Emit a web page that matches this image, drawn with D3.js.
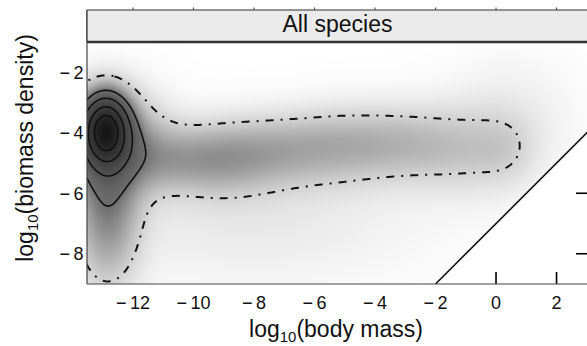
<!DOCTYPE html>
<html>
<head>
<meta charset="utf-8">
<script src="https://cdn.jsdelivr.net/npm/d3@7"></script>
<style>
  html, body { margin: 0; padding: 0; background: #fff; }
  svg { display: block; font-family: "Liberation Sans", Arial, Helvetica, sans-serif; }
</style>
</head>
<body>
<svg id="chart" width="587" height="346"></svg>
<script>
// ---- data -------------------------------------------------------------
const stripLabel = "All species";
const xTicks = [-12, -10, -8, -6, -4, -2, 0, 2];
const yTicks = [-2, -4, -6, -8];

// Smoothed density surface, described by its Gaussian kernels
// (centre in log10 body mass / log10 biomass density, spreads, weight):
// core peak, its base, the lower column, then the band of larger species,
// then two faint halos.
const kernelX  = [-12.9, -12.85, -12.85, -12.85, -11.0, -9.0, -7.0, -5.0, -3.0, -1.0, 0.4, -8.0, 0.5];
const kernelY  = [-3.9,  -4.1,   -6.2,   -8.5,   -4.9,  -4.8,  -4.55, -4.4, -4.35, -4.55, -4.6, -6.8, -3.6];
const kernelSX = [0.5,   1.2,    0.75,   0.75,   1.2,   1.2,   1.2,  1.2,  1.2,  1.2,   0.7,  4.0,  1.5];
const kernelSY = [0.75,  1.1,    1.5,    1.0,    0.75,  0.85,  0.85, 0.9,  0.9,  1.0,   0.85, 1.6,  1.5];
const kernelW  = [0.72,  0.2,    0.2,    0.04,   0.1,   0.13,  0.1,  0.1,  0.09, 0.07,  0.035, 0.042, 0.035];

// contour levels of the surface
const solidLevels = [0.25, 0.4, 0.6, 0.8];
const outerLevels = [0.084];

// grey ramp of the surface
const shadeStops = [0, 0.084, 0.25, 0.4, 0.6, 0.8, 1.0];
const shadeGrey  = [255, 210, 110, 82, 60, 42, 22];

// upper limit line: biomass density = body mass - 7
const boundaryX = [-2, 3.2];
const boundaryOffset = -7;

// ---- layout -----------------------------------------------------------
const plot = { left: 87, right: 588, top: 42, bottom: 284 };
const stripTop = 10;

const x = d3.scaleLinear().domain([-13.52, 3.04]).range([plot.left, plot.right]);
const y = d3.scaleLinear().domain([-9, -1]).range([plot.bottom, plot.top]);
const grey = d3.scaleLinear().domain(shadeStops).range(shadeGrey).clamp(true);

function density(xv, yv) {
  let s = 0;
  for (let k = 0; k < kernelW.length; k++) {
    const dx = (xv - kernelX[k]) / kernelSX[k];
    const dy = (yv - kernelY[k]) / kernelSY[k];
    s += kernelW[k] * Math.exp(-0.5 * (dx * dx + dy * dy));
  }
  return s;
}
const allowed = (xv, yv) => yv >= xv + boundaryOffset;

const svg = d3.select("#chart");
const defs = svg.append("defs");
defs.append("clipPath").attr("id", "clip-plot")
  .append("rect")
  .attr("x", plot.left).attr("y", plot.top)
  .attr("width", plot.right - plot.left).attr("height", plot.bottom - plot.top);

// ---- density image ------------------------------------------------------
const cw = plot.right - plot.left, ch = plot.bottom - plot.top;
const canvas = document.createElement("canvas");
canvas.width = cw; canvas.height = ch;
const ctx = canvas.getContext("2d");
const img = ctx.createImageData(cw, ch);
for (let j = 0; j < ch; j++) {
  const yv = y.invert(plot.top + j + 0.5);
  for (let i = 0; i < cw; i++) {
    const xv = x.invert(plot.left + i + 0.5);
    const p = (j * cw + i) * 4;
    if (!allowed(xv, yv)) { img.data[p + 3] = 0; continue; }
    const g = Math.round(grey(density(xv, yv)));
    img.data[p] = g; img.data[p + 1] = g; img.data[p + 2] = g; img.data[p + 3] = 255;
  }
}
ctx.putImageData(img, 0, 0);
svg.append("image")
  .attr("x", plot.left).attr("y", plot.top)
  .attr("width", cw).attr("height", ch)
  .attr("preserveAspectRatio", "none")
  .attr("href", canvas.toDataURL());

// ---- inward ticks, shown only where the surface leaves the panel blank ----
const tickLen = 12;
const ticks = svg.append("g");
xTicks.forEach(v => {
  const inner = y.invert(plot.bottom - tickLen);
  if (allowed(v, inner)) return;
  ticks.append("line").attr("x1", x(v)).attr("x2", x(v))
    .attr("y1", plot.bottom).attr("y2", plot.bottom - tickLen)
    .attr("stroke", "#000").attr("stroke-width", 1.6);
});
yTicks.forEach(v => {
  const inner = x.invert(plot.right - tickLen);
  if (allowed(inner, v)) return;
  ticks.append("line").attr("x1", plot.right).attr("x2", plot.right - tickLen)
    .attr("y1", y(v)).attr("y2", y(v))
    .attr("stroke", "#000").attr("stroke-width", 1.6);
});

// ---- contours -----------------------------------------------------------
const step = 0.04, gx0 = -15.5, gx1 = 4.5, gy0 = -11.5, gy1 = 1.0;
const n = Math.round((gx1 - gx0) / step) + 1;
const m = Math.round((gy1 - gy0) / step) + 1;
const values = new Float64Array(n * m);
for (let j = 0; j < m; j++)
  for (let i = 0; i < n; i++)
    values[i + j * n] = density(gx0 + i * step, gy0 + j * step);

const proj = d3.geoTransform({
  point(px, py) {
    this.stream.point(x(gx0 + (px - 0.5) * step), y(gy0 + (py - 0.5) * step));
  }
});
const path = d3.geoPath(proj);
const contourGen = d3.contours().size([n, m]);

const cg = svg.append("g").attr("clip-path", "url(#clip-plot)").attr("fill", "none");
cg.selectAll("path.solid")
  .data(contourGen.thresholds(solidLevels)(values))
  .join("path").attr("class", "solid")
  .attr("d", path)
  .attr("stroke", "#111").attr("stroke-width", 1.6);
cg.selectAll("path.outer")
  .data(contourGen.thresholds(outerLevels)(values))
  .join("path").attr("class", "outer")
  .attr("d", path)
  .attr("stroke", "#111").attr("stroke-width", 2)
  .attr("stroke-dasharray", "8,7,2,7");

// boundary line
cg.append("path")
  .datum(boundaryX.map(v => [v, v + boundaryOffset]))
  .attr("d", d3.line().x(d => x(d[0])).y(d => y(d[1])))
  .attr("stroke", "#111").attr("stroke-width", 1.6);

// ---- frame and strip ----------------------------------------------------
svg.append("line").attr("x1", plot.left).attr("x2", plot.right)
  .attr("y1", plot.bottom).attr("y2", plot.bottom)
  .attr("stroke", "#444").attr("stroke-width", 1.2);
svg.append("line").attr("x1", plot.left).attr("x2", plot.left)
  .attr("y1", stripTop).attr("y2", plot.bottom)
  .attr("stroke", "#444").attr("stroke-width", 1.2);

svg.append("rect")
  .attr("x", plot.left).attr("y", stripTop)
  .attr("width", plot.right - plot.left).attr("height", plot.top - stripTop)
  .attr("fill", "#ebebeb");
svg.append("line").attr("x1", plot.left).attr("x2", plot.right)
  .attr("y1", stripTop).attr("y2", stripTop)
  .attr("stroke", "#333").attr("stroke-width", 1.2);
svg.append("line").attr("x1", plot.left).attr("x2", plot.right)
  .attr("y1", plot.top).attr("y2", plot.top)
  .attr("stroke", "#333").attr("stroke-width", 2.6);
svg.append("line").attr("x1", plot.left).attr("x2", plot.left)
  .attr("y1", stripTop).attr("y2", plot.top)
  .attr("stroke", "#333").attr("stroke-width", 1.2);
svg.append("text")
  .attr("x", (plot.left + plot.right) / 2).attr("y", stripTop + 21.5)
  .attr("text-anchor", "middle").attr("font-size", 23).attr("fill", "#111")
  .text(stripLabel);

// short ticks above the strip
xTicks.forEach(v => {
  svg.append("line").attr("x1", x(v)).attr("x2", x(v))
    .attr("y1", stripTop - 2.5).attr("y2", stripTop)
    .attr("stroke", "#555").attr("stroke-width", 1.2);
});

// ---- tick labels --------------------------------------------------------
function addNumber(sel, v) {
  if (v < 0) {
    sel.append("tspan").text("\u2212");
    sel.append("tspan").attr("dx", 3.5).text(String(-v));
  } else {
    sel.text(String(v));
  }
}
xTicks.forEach(v => {
  const t = svg.append("text")
    .attr("x", x(v)).attr("y", 309)
    .attr("text-anchor", "middle").attr("font-size", 18).attr("fill", "#111");
  addNumber(t, v);
});
yTicks.forEach(v => {
  const t = svg.append("text")
    .attr("x", 83.5).attr("y", y(v) + 6.5)
    .attr("text-anchor", "end").attr("font-size", 18).attr("fill", "#111");
  addNumber(t, v);
});

// ---- axis titles --------------------------------------------------------
function axisTitle(sel, main) {
  sel.append("tspan").text("log");
  sel.append("tspan").attr("font-size", 15).attr("dy", 5).text("10");
  sel.append("tspan").attr("dy", -5).text(main);
}
axisTitle(svg.append("text")
  .attr("x", 336).attr("y", 337)
  .attr("text-anchor", "middle").attr("font-size", 23).attr("fill", "#111"),
  "(body mass)");
axisTitle(svg.append("text")
  .attr("transform", "translate(32.5,148) rotate(-90)")
  .attr("text-anchor", "middle").attr("font-size", 23).attr("fill", "#111"),
  "(biomass density)");
</script>
</body>
</html>
